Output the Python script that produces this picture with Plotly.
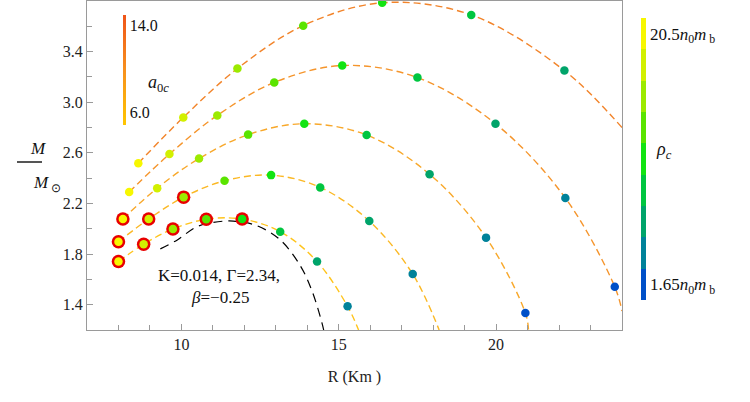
import plotly.graph_objects as go

# ---------------- data ----------------
# rho_c levels (units n0 m_b), highest -> lowest
rho_levels = [20.5, 18.14, 15.79, 13.44, 11.08, 8.72, 6.36, 4.01, 1.65]

# curve A (largest a_0c)
R_A = [8.63, 10.06, 11.78, 13.87, 16.38, 19.21, 22.17]
M_A = [2.518, 2.88, 3.266, 3.605, 3.786, 3.69, 3.25]
rho_A = [20.5, 18.14, 15.79, 13.44, 11.08, 8.72, 6.36]
flag_A = [0, 0, 0, 0, 0, 0, 0]
tailR_A = [24.0]
tailM_A = [2.80]

# curve B
R_B = [8.34, 9.62, 11.14, 12.95, 15.11, 17.50, 19.98, 22.2, 23.77]
M_B = [2.29, 2.59, 2.896, 3.156, 3.29, 3.195, 2.83, 2.243, 1.542]
rho_B = [20.5, 18.14, 15.79, 13.44, 11.08, 8.72, 6.36, 4.01, 1.65]
flag_B = [0, 0, 0, 0, 0, 0, 0, 0, 0]
tailR_B = [24.0]
tailM_B = [1.35]

# curve C
R_C = [8.14, 9.23, 10.56, 12.12, 13.905, 15.885, 17.886, 19.68, 20.93]
M_C = [2.077, 2.321, 2.555, 2.744, 2.83, 2.741, 2.431, 1.93, 1.335]
rho_C = [20.5, 18.14, 15.79, 13.44, 11.08, 8.72, 6.36, 4.01, 1.65]
flag_C = [1, 0, 0, 0, 0, 0, 0, 0, 0]
tailR_C = [21.03]
tailM_C = [1.2]

# curve D
R_D = [8.0, 8.96, 10.07, 11.37, 12.85, 14.41, 15.97, 17.35]
M_D = [1.898, 2.077, 2.25, 2.379, 2.424, 2.327, 2.061, 1.642]
rho_D = [20.5, 18.14, 15.79, 13.44, 11.08, 8.72, 6.36, 4.01]
flag_D = [1, 1, 1, 0, 0, 0, 0, 0]
tailR_D = [18.19]
tailM_D = [1.2]

# curve E (smallest a_0c)
R_E = [8.0, 8.80, 9.73, 10.79, 11.93, 13.14, 14.31, 15.28]
M_E = [1.741, 1.878, 1.998, 2.075, 2.077, 1.977, 1.741, 1.387]
rho_E = [20.5, 18.14, 15.79, 13.44, 11.08, 8.72, 6.36, 4.01]
flag_E = [1, 1, 1, 1, 1, 0, 0, 0]
tailR_E = [15.63]
tailM_E = [1.2]

# black reference curve
R_K = [9.33, 9.87, 10.47, 11.01, 11.65, 12.38, 13.14, 13.78, 14.16, 14.48, 14.52]
M_K = [1.841, 1.912, 2.014, 2.05, 2.061, 2.026, 1.912, 1.707, 1.502, 1.243, 1.2]

a0c_range = [6.0, 14.0]

x_ticks = [10, 15, 20]
y_ticks = [1.4, 1.8, 2.2, 2.6, 3.0, 3.4]

# ---------------- styles ----------------
curve_colors = ["#f2842a", "#f5952c", "#f8a82a", "#fbb824", "#ffc41c"]
rho_colors = ["#0050c8", "#00829a", "#00a46a", "#00c640", "#12e412",
              "#5ae400", "#9cea00", "#d2f000", "#f7f700"]  # low -> high
cmin_rho, cmax_rho = 0.47, 21.68
disc = []
n = len(rho_colors)
for i, c in enumerate(rho_colors):
    disc.append([i / n, c])
    disc.append([(i + 1) / n, c])
a_scale = [[0, "#ffc600"], [0.5, "#f7901e"], [1, "#ef5418"]]

SERIF = "Liberation Serif"
T = 1          # top margin
H = 402 - T - 72  # plot height
fig = go.Figure()

curves = [
    (R_A, M_A, rho_A, flag_A, tailR_A, tailM_A),
    (R_B, M_B, rho_B, flag_B, tailR_B, tailM_B),
    (R_C, M_C, rho_C, flag_C, tailR_C, tailM_C),
    (R_D, M_D, rho_D, flag_D, tailR_D, tailM_D),
    (R_E, M_E, rho_E, flag_E, tailR_E, tailM_E),
]

# black dashed curve
fig.add_trace(go.Scatter(x=R_K, y=M_K, mode="lines",
                         line=dict(color="black", width=1.2, dash="9px,6px", shape="spline"),
                         hoverinfo="skip", showlegend=False))

for (R, M, rho, flag, tR, tM), col in zip(curves, curve_colors):
    fig.add_trace(go.Scatter(x=R + tR, y=M + tM, mode="lines",
                             line=dict(color=col, width=1.4, dash="7px,4px", shape="spline"),
                             hoverinfo="skip", showlegend=False))

# red rings behind the flagged points
for (R, M, rho, flag, tR, tM) in curves:
    fx = [r for r, f in zip(R, flag) if f]
    fy = [m for m, f in zip(M, flag) if f]
    if fx:
        fig.add_trace(go.Scatter(x=fx, y=fy, mode="markers", showlegend=False, hoverinfo="skip",
                                 marker=dict(color="#e80000", size=13.5, line=dict(width=0))))

first = True
for (R, M, rho, flag, tR, tM) in curves:
    fig.add_trace(go.Scatter(
        x=R, y=M, mode="markers", showlegend=False, hoverinfo="skip",
        marker=dict(
            color=rho, colorscale=disc, cmin=cmin_rho, cmax=cmax_rho,
            size=8.5, line=dict(width=0),
            showscale=first,
            colorbar=dict(
                x=(641 - 87) / 535, xanchor="left", xpad=0,
                y=1 - (159 - T) / H, yanchor="middle", ypad=0,
                len=282 / H, lenmode="fraction", thickness=5,
                outlinewidth=0, ticks="",
                tickvals=[rho_levels[0], rho_levels[-1]],
                ticktext=["20.5<i>n</i><sub>0</sub><i>m</i><sub> b</sub>",
                          "1.65<i>n</i><sub>0</sub><i>m</i><sub> b</sub>"],
                tickfont=dict(family=SERIF, size=17, color="#111"),
            ),
        )))
    first = False

# a_0c colour legend (scale bar)
fig.add_trace(go.Scatter(
    x=[None, None], y=[None, None], mode="markers", showlegend=False, hoverinfo="skip",
    marker=dict(color=a0c_range, colorscale=a_scale, cmin=4.8, cmax=14.92, showscale=True,
                colorbar=dict(
                    x=(123 - 87) / 535, xanchor="left", xpad=0,
                    y=1 - (70 - T) / H, yanchor="middle", ypad=0,
                    len=110 / H, lenmode="fraction", thickness=3,
                    outlinewidth=0, ticks="",
                    tickvals=a0c_range, ticktext=["6.0", "14.0"],
                    tickfont=dict(family=SERIF, size=16, color="#111"),
                ))))

axis_common = dict(showline=True, linecolor="#9a9a9a", linewidth=1, mirror=True,
                   ticks="inside", tickcolor="#9a9a9a", ticklen=6, showgrid=False,
                   zeroline=False, tickfont=dict(family=SERIF, size=16, color="#222"))

fig.update_xaxes(range=[7, 24], tickvals=x_ticks,
                 minor=dict(dtick=1, tick0=0, ticks="inside", ticklen=5, tickcolor="#9a9a9a"),
                 title=dict(text="R (Km )", font=dict(family=SERIF, size=16, color="#222"), standoff=18),
                 **axis_common)
fig.update_yaxes(range=[1.2, 3.8], tickvals=y_ticks, ticktext=[f"{v:.1f}" for v in y_ticks],
                 minor=dict(dtick=0.2, tick0=0, ticks="inside", ticklen=5, tickcolor="#9a9a9a"),
                 **axis_common)

ann = []
ann.append(dict(x=11.2, y=1.628, xref="x", yref="y", text="K=0.014, Γ=2.34,",
                showarrow=False, font=dict(family=SERIF, size=17, color="#111")))
ann.append(dict(x=11.24, y=1.455, xref="x", yref="y", text="<i>β</i>=−0.25",
                showarrow=False, font=dict(family=SERIF, size=17, color="#111")))
ann.append(dict(x=(28 - 87) / 535, y=1 - (148 - T) / H, xref="paper", yref="paper",
                text="<i>M</i>", showarrow=False, font=dict(family=SERIF, size=17, color="#111")))
ann.append(dict(x=(31 - 87) / 535, y=1 - (184 - T) / H, xref="paper", yref="paper",
                text="<i>M</i><sub> ⊙</sub>", showarrow=False,
                font=dict(family=SERIF, size=17, color="#111")))
ann.append(dict(x=(146 - 87) / 535, y=1 - (70 - T) / H, xref="paper", yref="paper",
                text="<i>a</i><sub>0<i>c</i></sub>", showarrow=False,
                font=dict(family=SERIF, size=18, color="#111")))
ann.append(dict(x=(674 - 87) / 535, y=1 - (150 - T) / H, xref="paper", yref="paper",
                text="<i>ρ</i><sub><i>c</i></sub>", showarrow=False,
                font=dict(family=SERIF, size=18, color="#111")))

fig.update_layout(
    width=750, height=402,
    margin=dict(l=87, r=128, t=T, b=72),
    paper_bgcolor="white", plot_bgcolor="white",
    showlegend=False, annotations=ann,
    shapes=[dict(type="line", xref="paper", yref="paper",
                 x0=(17 - 87) / 535, x1=(42 - 87) / 535,
                 y0=1 - (162 - T) / H, y1=1 - (162 - T) / H,
                 line=dict(color="#555", width=2))],
)

fig.write_html("out.html")
